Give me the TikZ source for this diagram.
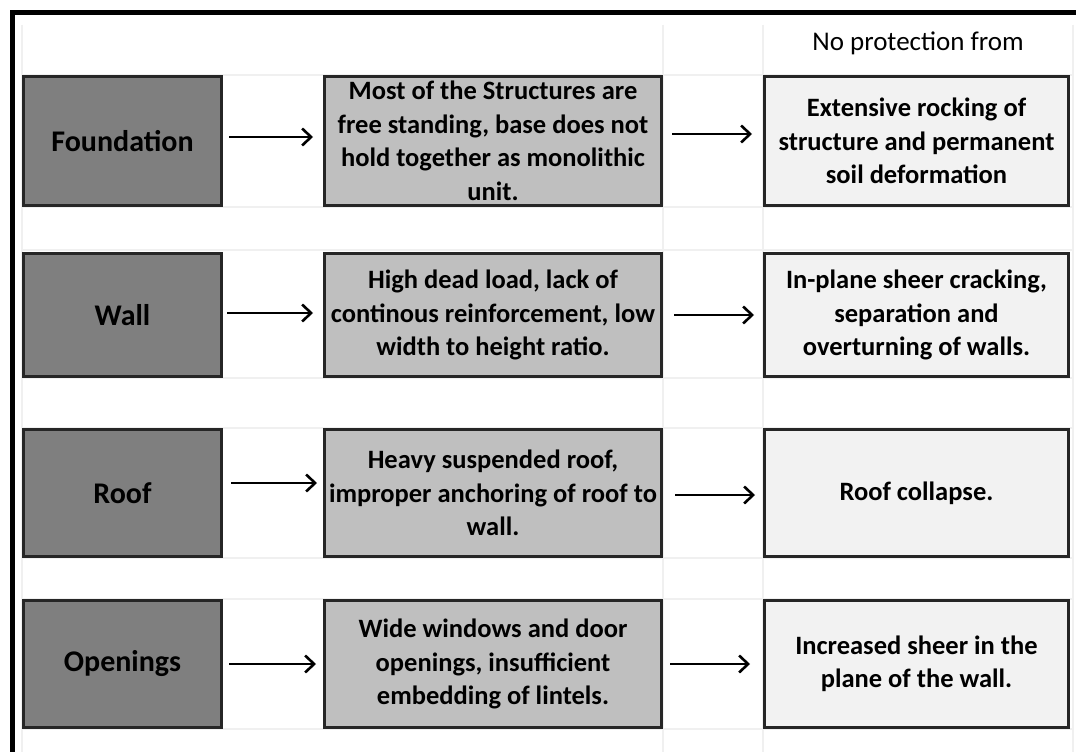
\documentclass[tikz,border=0pt]{standalone}
\usepackage{fontspec}
\setmainfont{Carlito}
\usetikzlibrary{arrows.meta}
\definecolor{darkbox}{HTML}{7F7F7F}
\definecolor{midbox}{HTML}{BFBFBF}
\definecolor{lightbox}{HTML}{F2F2F2}
\definecolor{edge}{HTML}{262626}
\definecolor{grid}{HTML}{F0F0F0}
\tikzset{
  box/.style={draw=edge, line width=3pt, inner sep=2pt, align=center, font=\fontsize{26.5}{33.5}\selectfont\bfseries, text=black},
  leftbox/.style={box, fill=darkbox, minimum width=198pt, font=\fontsize{30}{34}\selectfont\bfseries},
  midbox/.style={box, fill=midbox, minimum width=337pt},
  rightbox/.style={box, fill=lightbox, minimum width=304pt},
  arr/.style={line width=2.4pt, -{Straight Barb[length=9pt,width=17pt,line width=2.6pt]}},
  gridline/.style={draw=grid, line width=1.5pt}
}
\begin{document}
\begin{tikzpicture}[x=1pt,y=-1pt]
\useasboundingbox (0,0) rectangle (1076,752);
\fill[white] (0,0) rectangle (1076,752);
% faint spreadsheet gridlines
\foreach \yy in {75,207,250,378,428,558,599,729}
  \draw[gridline] (22,\yy) -- (1073,\yy);
\foreach \xx in {22,663,763,1073}
  \draw[gridline] (\xx,25) -- (\xx,752);
% outer border
\draw[line width=5pt, line cap=rect] (12,752) -- (12,13) -- (1076,13);
% header
\node[font=\fontsize{27}{32}\selectfont, text=black] (hdr) at (918,43) {No protection from};
% row 1
\node[leftbox, minimum height=129pt] (a1) at (122.5,141) {Foundation};
\node[midbox, minimum height=129pt] (b1) at (493,141) {Most of the Structures are\\free standing, base does not\\hold together as monolithic\\unit.};
\node[rightbox, minimum height=129pt] (c1) at (916.5,141) {Extensive rocking of\\structure and permanent\\soil deformation};
% row 2
\node[leftbox, minimum height=123pt] (a2) at (122.5,315) {Wall};
\node[midbox, minimum height=123pt] (b2) at (493,315) {High dead load, lack of\\continous reinforcement, low\\width to height ratio.};
\node[rightbox, minimum height=123pt] (c2) at (916.5,315) {In-plane sheer cracking,\\separation and\\overturning of walls.};
% row 3
\node[leftbox, minimum height=127pt] (a3) at (122.5,493) {Roof};
\node[midbox, minimum height=127pt] (b3) at (493,493) {Heavy suspended roof,\\improper anchoring of roof to\\wall.};
\node[rightbox, minimum height=127pt] (c3) at (916.5,493) {Roof collapse.};
% row 4
\node[leftbox, minimum height=127pt] (a4) at (122.5,664) {Openings};
\node[midbox, minimum height=127pt] (b4) at (493,664) {Wide windows and door\\openings, insufficient\\embedding of lintels.};
\node[rightbox, minimum height=127pt] (c4) at (916.5,664) {Increased sheer in the\\plane of the wall.};
% arrows
\draw[arr] ([xshift=6pt,yshift=4pt]a1.east) -- ([xshift=-10pt,yshift=4pt]b1.west);
\draw[arr] ([xshift=9pt,yshift=7pt]b1.east) -- ([xshift=-11pt,yshift=7pt]c1.west);
\draw[arr] ([xshift=4pt,yshift=2pt]a2.east) -- ([xshift=-10pt,yshift=2pt]b2.west);
\draw[arr] ([xshift=11pt]b2.east) -- ([xshift=-9pt]c2.west);
\draw[arr] ([xshift=8pt,yshift=10pt]a3.east) -- ([xshift=-6pt,yshift=10pt]b3.west);
\draw[arr] ([xshift=12pt,yshift=-2pt]b3.east) -- ([xshift=-8pt,yshift=-2pt]c3.west);
\draw[arr] ([xshift=6pt]a4.east) -- ([xshift=-7pt]b4.west);
\draw[arr] ([xshift=7pt]b4.east) -- ([xshift=-13pt]c4.west);
\end{tikzpicture}
\end{document}
